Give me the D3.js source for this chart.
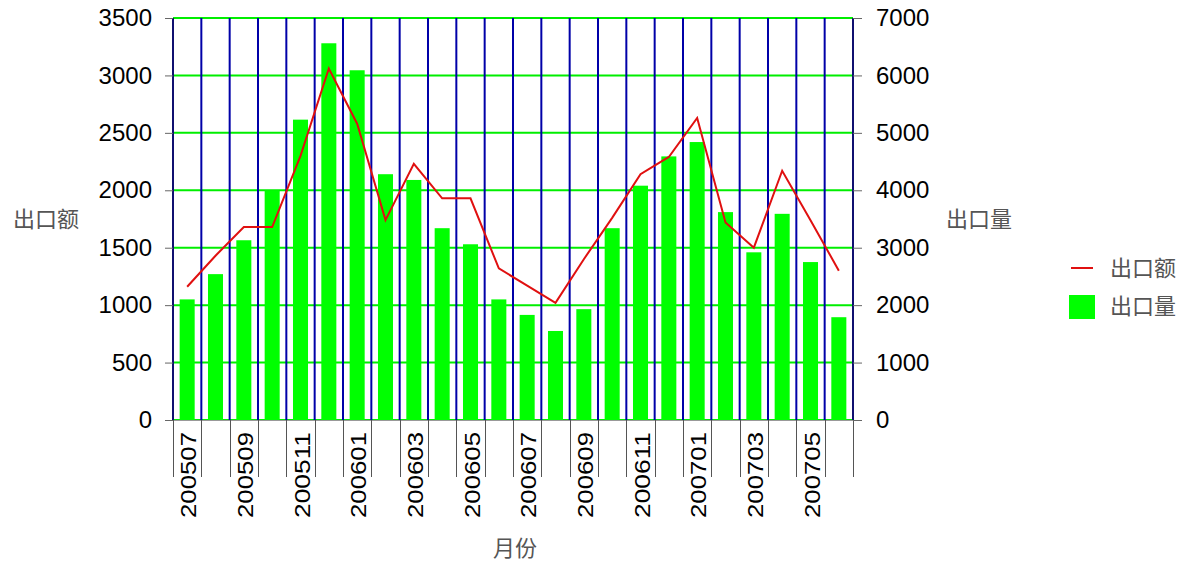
<!DOCTYPE html>
<html>
<head>
<meta charset="utf-8">
<script src="https://cdn.jsdelivr.net/npm/d3@7"></script>
<style>
  body { margin: 0; background: #fff; }
  text { font-family: "Liberation Sans", Arial, sans-serif; }
  .cjk { font-family: "Noto Sans CJK SC", sans-serif; fill: #555; font-size: 22px; }
</style>
</head>
<body>
<div id="chart"></div>
<script>
// months along the x axis
var months = ["200507","200508","200509","200510","200511","200512",
  "200601","200602","200603","200604","200605","200606",
  "200607","200608","200609","200610","200611","200612",
  "200701","200702","200703","200704","200705","200706"];

// 出口额 (line, left axis)
var exportValue = [1160, 1430, 1680, 1680, 2300, 3060, 2580, 1740, 2230, 1930, 1930, 1320,
  1170, 1020, 1400, 1760, 2140, 2290, 2630, 1720, 1500, 2170, 1740, 1300];

// 出口量 (bars, right axis)
var exportVolume = [2100, 2540, 3130, 4000, 5230, 6560, 6090, 4280, 4180, 3340, 3060, 2100,
  1830, 1550, 1930, 3340, 4080, 4590, 4840, 3620, 2920, 3590, 2750, 1790];

var leftTicks = [0, 500, 1000, 1500, 2000, 2500, 3000, 3500];
var rightTicks = [0, 1000, 2000, 3000, 4000, 5000, 6000, 7000];

var svgWidth = 1186, svgHeight = 562;
var margin = { top: 18, left: 173, right: 333, bottom: 142 };
var width = svgWidth - margin.left - margin.right;
var height = svgHeight - margin.top - margin.bottom;

var svg = d3.select("#chart").append("svg")
  .attr("width", svgWidth)
  .attr("height", svgHeight);

var chartGroup = svg.append("g")
  .attr("transform", `translate(${margin.left}, ${margin.top})`);

// scales
var xScale = d3.scaleBand().domain(months).range([0, width]).padding(0);
var yLeft = d3.scaleLinear().domain([0, 3500]).range([height, 0]);
var yRight = d3.scaleLinear().domain([0, 7000]).range([height, 0]);

// horizontal green grid
chartGroup.append("g").selectAll("line")
  .data(leftTicks)
  .enter().append("line")
  .attr("x1", 0).attr("x2", width)
  .attr("y1", d => yLeft(d)).attr("y2", d => yLeft(d))
  .attr("stroke", "#00ee00")
  .attr("stroke-width", 2);

// vertical navy grid at each month boundary
var bounds = months.map(m => xScale(m)).concat([width]);
chartGroup.append("g").selectAll("line")
  .data(bounds)
  .enter().append("line")
  .attr("x1", d => d).attr("x2", d => d)
  .attr("y1", 0).attr("y2", height)
  .attr("stroke", (d, i) => (i === 0 || i === bounds.length - 1) ? "#101070" : "#0000a8")
  .attr("stroke-width", 2);

// bottom axis line + long tick lines under the plot
chartGroup.append("line")
  .attr("x1", -8).attr("x2", width + 9)
  .attr("y1", height + 0.5).attr("y2", height + 0.5)
  .attr("stroke", "#999").attr("stroke-width", 1);

chartGroup.append("g").selectAll("line")
  .data(bounds)
  .enter().append("line")
  .attr("x1", d => Math.round(d) + 0.5).attr("x2", d => Math.round(d) + 0.5)
  .attr("y1", height).attr("y2", height + 57)
  .attr("stroke", "#555").attr("stroke-width", 1);

// bars
var barW = xScale.bandwidth() * 0.53;
chartGroup.append("g").selectAll("rect")
  .data(exportVolume)
  .enter().append("rect")
  .attr("x", (d, i) => xScale(months[i]) + (xScale.bandwidth() - barW) / 2)
  .attr("y", d => yRight(d))
  .attr("width", barW)
  .attr("height", d => height - yRight(d))
  .attr("fill", "#00ff00");

// line
var line = d3.line()
  .x((d, i) => xScale(months[i]) + xScale.bandwidth() / 2)
  .y(d => yLeft(d));

chartGroup.append("path")
  .datum(exportValue)
  .attr("d", line)
  .attr("fill", "none")
  .attr("stroke", "#e01010")
  .attr("stroke-width", 2);

// left axis
var leftAxis = d3.axisLeft(yLeft).tickValues(leftTicks).tickFormat(d3.format("d"))
  .tickSize(8).tickPadding(13);
var gl = chartGroup.append("g").call(leftAxis);
gl.select(".domain").remove();
gl.selectAll("line").attr("stroke", "#666");
gl.selectAll("text").attr("font-size", 24).attr("fill", "#000")
  .attr("font-family", "Liberation Sans, Arial, sans-serif");

// right axis
var rightAxis = d3.axisRight(yRight).tickValues(rightTicks).tickFormat(d3.format("d"))
  .tickSize(9).tickPadding(14);
var gr = chartGroup.append("g")
  .attr("transform", `translate(${width}, 0)`)
  .call(rightAxis);
gr.select(".domain").remove();
gr.selectAll("line").attr("stroke", "#666");
gr.selectAll("text").attr("font-size", 24).attr("fill", "#000")
  .attr("font-family", "Liberation Sans, Arial, sans-serif");

// month labels, every other one, rotated
chartGroup.append("g").selectAll("text")
  .data(months.filter((m, i) => i % 2 === 0))
  .enter().append("text")
  .attr("transform", d => `translate(${xScale(d) + xScale.bandwidth() / 2 + 9}, ${height + 12}) rotate(-90)`)
  .attr("text-anchor", "end")
  .attr("font-size", 22)
  .attr("textLength", 86)
  .attr("lengthAdjust", "spacingAndGlyphs")
  .attr("fill", "#000")
  .text(d => d);

// axis titles
svg.append("text").attr("class", "cjk")
  .attr("x", 46).attr("y", 219).attr("dy", "0.35em")
  .attr("text-anchor", "middle")
  .text("出口额");

svg.append("text").attr("class", "cjk")
  .attr("x", 979).attr("y", 219).attr("dy", "0.35em")
  .attr("text-anchor", "middle")
  .text("出口量");

svg.append("text").attr("class", "cjk")
  .attr("x", 515).attr("y", 548).attr("dy", "0.35em")
  .attr("text-anchor", "middle")
  .text("月份");

// legend
var legend = svg.append("g");
legend.append("line")
  .attr("x1", 1071).attr("x2", 1093)
  .attr("y1", 268).attr("y2", 268)
  .attr("stroke", "#e01010").attr("stroke-width", 2);
legend.append("text").attr("class", "cjk")
  .attr("x", 1110).attr("y", 268).attr("dy", "0.35em")
  .text("出口额");
legend.append("rect")
  .attr("x", 1069).attr("y", 295)
  .attr("width", 26).attr("height", 24)
  .attr("fill", "#00ff00");
legend.append("text").attr("class", "cjk")
  .attr("x", 1110).attr("y", 306).attr("dy", "0.35em")
  .text("出口量");
</script>
</body>
</html>
